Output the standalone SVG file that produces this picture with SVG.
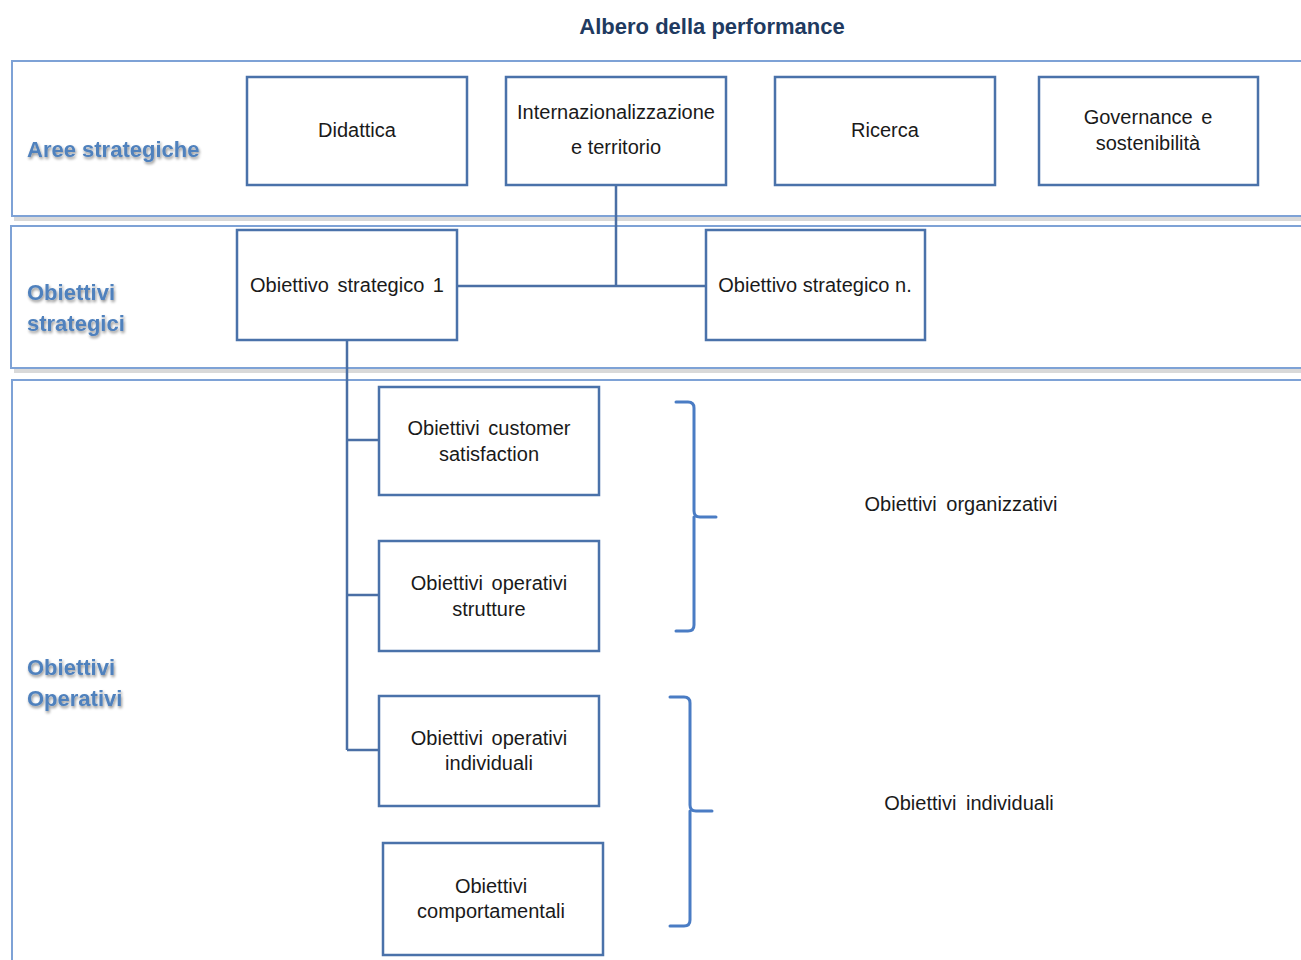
<svg xmlns="http://www.w3.org/2000/svg" width="1301" height="960" viewBox="0 0 1301 960">
<style>
.band{fill:#fff;stroke:#7ea2d6;stroke-width:2}
.bshadow{fill:none;stroke:#d9d9d9;stroke-width:4}
.node{fill:#fff;stroke:#4a72aa;stroke-width:2.5}
.t{font-family:"Liberation Sans",Arial,sans-serif;font-size:20px;fill:#1a1a1a;text-anchor:middle}
.w{word-spacing:3px}
.lbl{font-family:"Liberation Sans",Arial,sans-serif;font-size:22px;font-weight:bold;fill:#4f81bd}
.conn{fill:none;stroke:#4a6fa5;stroke-width:2.5}
.brace{fill:none;stroke:#4a7cc4;stroke-width:3;stroke-linecap:round}
.side{font-family:"Liberation Sans",Arial,sans-serif;font-size:20px;fill:#1a1a1a;text-anchor:middle;word-spacing:4px}
</style>
<defs>
<filter id="sh" x="-10%" y="-30%" width="120%" height="160%">
<feGaussianBlur in="SourceAlpha" stdDeviation="1.5" result="b"/>
<feOffset in="b" dx="1" dy="2" result="o"/>
<feComponentTransfer in="o" result="s"><feFuncA type="linear" slope="0.45"/></feComponentTransfer>
<feMerge><feMergeNode in="s"/><feMergeNode in="SourceGraphic"/></feMerge>
</filter>
</defs>
<rect width="1301" height="960" fill="#fff"/>
<text x="712" y="34" font-family="Liberation Sans,Arial,sans-serif" font-size="22" font-weight="bold" fill="#1f3a60" text-anchor="middle">Albero della performance</text>

<g id="bands">
<path class="bshadow" d="M14 219 H1301"/>
<rect class="band" x="12" y="61" width="1300" height="155"/>
<path class="bshadow" d="M14 371 H1301"/>
<rect class="band" x="11" y="226" width="1300" height="142"/>
<rect class="band" x="12" y="380" width="1300" height="590"/>
</g>

<g id="labels" filter="url(#sh)">
<text class="lbl" x="27" y="157">Aree strategiche</text>
<text class="lbl" x="27" y="300">Obiettivi</text>
<text class="lbl" x="27" y="331">strategici</text>
<text class="lbl" x="27" y="675">Obiettivi</text>
<text class="lbl" x="27" y="706">Operativi</text>
</g>

<g id="connectors">
<path class="conn" d="M616 185 V286 M457 286 H706"/>
<path class="conn" d="M347 340 V750 M347 440 H379 M347 595 H379 M347 750 H379"/>
<path class="brace" d="M676 402 H688 Q694 402 694 408 V511 Q694 517 700 517 H716 M694 517 Q694 523 694 526 V625 Q694 631 688 631 H676"/>
<path class="brace" d="M670 697 H684 Q690 697 690 703 V805 Q690 811 696 811 H712 M690 811 V920 Q690 926 684 926 H670"/>
</g>

<g id="n-didattica"><rect class="node" x="247" y="77" width="220" height="108"/><text class="t" x="357" y="137">Didattica</text></g>
<g id="n-intern"><rect class="node" x="506" y="77" width="220" height="108"/><text class="t" x="616" y="119">Internazionalizzazione</text><text class="t" x="616" y="154">e territorio</text></g>
<g id="n-ricerca"><rect class="node" x="775" y="77" width="220" height="108"/><text class="t" x="885" y="137">Ricerca</text></g>
<g id="n-gov"><rect class="node" x="1039" y="77" width="219" height="108"/><text class="t w" x="1148" y="124">Governance e</text><text class="t" x="1148" y="150">sostenibilità</text></g>

<g id="n-os1"><rect class="node" x="237" y="230" width="220" height="110"/><text class="t w" x="347" y="292">Obiettivo strategico 1</text></g>
<g id="n-osn"><rect class="node" x="706" y="230" width="219" height="110"/><text class="t" x="815" y="292">Obiettivo strategico n.</text></g>

<g id="n-cust"><rect class="node" x="379" y="387" width="220" height="108"/><text class="t w" x="489" y="435">Obiettivi customer</text><text class="t" x="489" y="461">satisfaction</text></g>
<g id="n-strut"><rect class="node" x="379" y="541" width="220" height="110"/><text class="t w" x="489" y="590">Obiettivi operativi</text><text class="t" x="489" y="616">strutture</text></g>
<g id="n-indiv"><rect class="node" x="379" y="696" width="220" height="110"/><text class="t w" x="489" y="745">Obiettivi operativi</text><text class="t" x="489" y="770">individuali</text></g>
<g id="n-comp"><rect class="node" x="383" y="843" width="220" height="112"/><text class="t" x="491" y="893">Obiettivi</text><text class="t" x="491" y="918">comportamentali</text></g>

<g id="side-labels">
<text class="side" x="961" y="511">Obiettivi organizzativi</text>
<text class="side" x="969" y="810">Obiettivi individuali</text>
</g>
</svg>
